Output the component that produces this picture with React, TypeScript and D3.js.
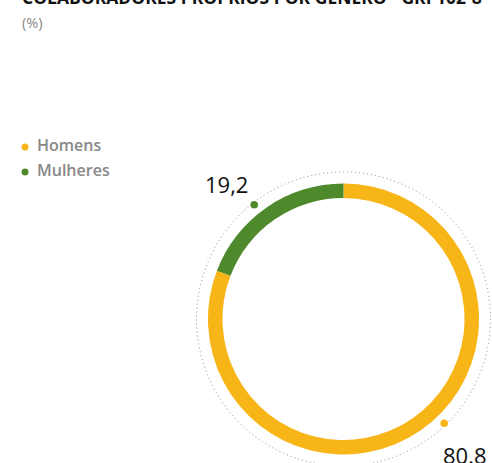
import React from "react";
import * as d3 from "d3";

const title = "COLABORADORES PRÓPRIOS POR GÊNERO - GRI 102-8";
const subtitle = "(%)";
const categories = ["Homens", "Mulheres"];
const values = [80.8, 19.2];
const valueLabels = ["80.8", "19,2"];
const colors = ["#F7B518", "#4E8A2C"];
// angle (degrees, clockwise from top) where each label marker sits
const markerAngles = [136, -38];

export default function App() {
  const W = 492, H = 463;
  const cx = 343.5, cy = 319;
  const outerR = 135.5, innerR = 121, dotR = 147;

  const total = d3.sum(values);
  const angle = d3.scaleLinear().domain([0, total]).range([0, 2 * Math.PI]);
  const arc = d3.arc<any>().innerRadius(innerR).outerRadius(outerR);
  const segs = [
    { start: 0, end: angle(values[0]), color: colors[0] },
    { start: -angle(values[1]), end: 0, color: colors[1] },
  ];

  const pt = (deg: number, r: number) => {
    const a = (deg * Math.PI) / 180;
    return [cx + r * Math.sin(a), cy - r * Math.cos(a)];
  };

  const m0 = pt(markerAngles[0], dotR - 2);
  const m1 = pt(markerAngles[1], dotR - 2);

  return (
    <svg width={W} height={H} style={{ position: "absolute", left: 0, top: 0 }}>
      <rect width={W} height={H} fill="#fff" />
      <text x={22} y={4} fontFamily="'Open Sans', sans-serif" fontWeight={700} fontSize={17.5} fill="#111">
        {title}
      </text>
      <text x={22} y={28} fontFamily="'Open Sans', sans-serif" fontSize={14.5} fill="#888">
        {subtitle}
      </text>
      {categories.map((c, i) => (
        <g key={c}>
          <circle cx={25} cy={147 + i * 25} r={3.5} fill={colors[i]} />
          <text x={37} y={151 + i * 25} fontFamily="'Open Sans', sans-serif" fontWeight={600} fontSize={16} fill="#888">
            {c}
          </text>
        </g>
      ))}
      <circle cx={cx} cy={cy} r={dotR} fill="none" stroke="#888" strokeWidth={1} strokeDasharray="1 3" />
      {segs.map((s, i) => (
        <path
          key={i}
          transform={`translate(${cx},${cy})`}
          d={arc({ startAngle: s.start, endAngle: s.end }) as string}
          fill={s.color}
        />
      ))}
      <circle cx={m0[0]} cy={m0[1]} r={3.8} fill={colors[0]} />
      <circle cx={m1[0]} cy={m1[1]} r={3.8} fill={colors[1]} />
      <text x={443} y={464} fontFamily="'Open Sans', sans-serif" fontSize={22} fill="#111">
        {valueLabels[0]}
      </text>
      <text x={205} y={193} fontFamily="'Open Sans', sans-serif" fontSize={22} fill="#111">
        {valueLabels[1]}
      </text>
    </svg>
  );
}
